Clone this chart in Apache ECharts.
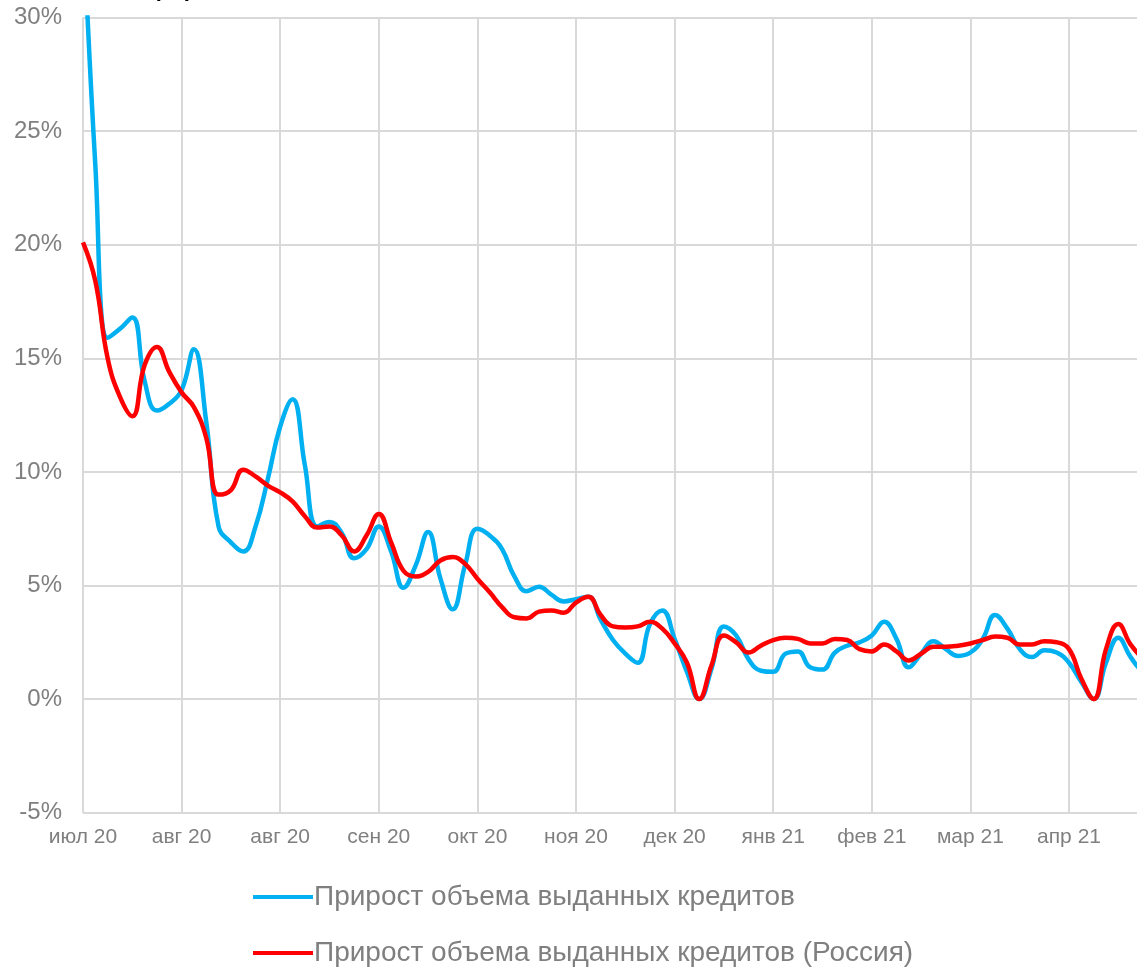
<!DOCTYPE html>
<html>
<head>
<meta charset="utf-8">
<script src="https://cdn.jsdelivr.net/npm/echarts@6/dist/echarts.min.js"></script>
<style>
  html, body { margin: 0; padding: 0; background: #fff; }
  #chart { width: 1137px; height: 969px; }
</style>
</head>
<body>
<div id="chart"></div>
<script>
// Month labels shown every 8th point (every four weeks)
const tickLabels = ['июл 20', 'авг 20', 'авг 20', 'сен 20', 'окт 20', 'ноя 20',
                    'дек 20', 'янв 21', 'фев 21', 'мар 21', 'апр 21'];

// Growth of issued loans, %
const loansGrowth = [
  34.5, 23.5, 15.9, 16.3, 16.8, 14.0, 12.7, 13.0, 13.6, 15.4,
  12.2, 7.6, 6.9, 6.5, 7.6, 9.7, 12.0, 13.2, 10.3, 7.6,
  7.8, 7.3, 6.2, 6.6, 7.6, 6.5, 4.9, 5.9, 7.35, 5.3,
  3.95, 5.9, 7.5, 7.2, 6.6, 5.4, 4.75, 4.95, 4.6, 4.3,
  4.4, 4.5, 3.5, 2.6, 2.0, 1.6, 3.3, 3.9, 2.65, 1.2,
  0.0, 1.35, 3.2, 2.8, 1.75, 1.25, 1.2, 2.0, 2.1, 1.4,
  1.3, 2.05, 2.35, 2.5, 2.8, 3.4, 2.65, 1.4, 2.0, 2.55,
  2.2, 1.9, 2.05, 2.65, 3.7, 3.1, 2.2, 1.85, 2.15, 2.05,
  1.6, 0.75, 0.0, 1.6, 2.7, 1.85, 1.2, 1.0
];

// Growth of issued loans across Russia, %
const loansGrowthRussia = [
  20.1, 18.4, 15.0, 13.3, 12.45, 14.7, 15.5, 14.4, 13.5, 12.85,
  11.5, 9.0, 9.2, 10.1, 9.8, 9.4, 9.1, 8.7, 8.05, 7.55,
  7.6, 7.2, 6.5, 7.2, 8.15, 6.9, 5.65, 5.4, 5.6, 6.1,
  6.25, 5.95, 5.3, 4.7, 4.05, 3.6, 3.55, 3.85, 3.9, 3.8,
  4.25, 4.5, 3.7, 3.2, 3.15, 3.2, 3.4, 3.1, 2.45, 1.6,
  0.0, 1.5, 2.8, 2.5, 2.05, 2.35, 2.6, 2.7, 2.65, 2.45,
  2.45, 2.65, 2.6, 2.2, 2.1, 2.4, 2.1, 1.7, 2.0, 2.3,
  2.3, 2.35, 2.45, 2.6, 2.75, 2.7, 2.4, 2.4, 2.55, 2.5,
  2.2, 0.9, 0.0, 2.2, 3.3, 2.4, 1.8, 1.5
];

const seriesNames = ['Прирост объема выданных кредитов',
                     'Прирост объема выданных кредитов (Россия)'];

const categories = loansGrowth.map((_, i) =>
  i % 8 === 0 && tickLabels[i / 8] ? tickLabels[i / 8] : '');
const isMonthTick = (i) => i % 8 === 0;

const chart = echarts.init(document.getElementById('chart'), null, { renderer: 'canvas' });
const font = '"Liberation Sans", Arial, sans-serif';

chart.setOption({
  animation: false,
  backgroundColor: '#ffffff',
  grid: {
    left: 83, top: 17.5, width: 1072.3, height: 795.2,
    containLabel: false, outerBoundsMode: 'none'
  },
  graphic: [{
    type: 'text',
    left: -4,
    top: -21,
    style: {
      text: 'Изменение, % (г/г)',
      font: 'bold 22px ' + font,
      fill: '#000000'
    }
  }],
  xAxis: {
    type: 'category',
    data: categories,
    boundaryGap: false,
    axisLine: { show: true, lineStyle: { color: '#d9d9d9', width: 2 } },
    axisTick: { show: false },
    axisLabel: {
      interval: (i) => isMonthTick(i),
      color: '#7f7f7f',
      fontSize: 21,
      fontFamily: font,
      margin: 14
    },
    splitLine: {
      show: true,
      interval: (i) => isMonthTick(i),
      lineStyle: { color: '#d9d9d9', width: 2 }
    }
  },
  yAxis: {
    type: 'value',
    min: -5,
    max: 30,
    interval: 5,
    axisLine: { show: false },
    axisTick: { show: false },
    axisLabel: {
      formatter: '{value}%',
      color: '#7f7f7f',
      fontSize: 24,
      fontFamily: font,
      margin: 21
    },
    splitLine: { show: true, lineStyle: { color: '#d9d9d9', width: 2 } }
  },
  legend: {
    orient: 'vertical',
    left: 253,
    top: 882,
    padding: 0,
    itemGap: 26,
    itemWidth: 60,
    itemHeight: 4,
    icon: 'rect',
    textStyle: {
      color: '#7f7f7f',
      fontSize: 28,
      lineHeight: 30,
      fontFamily: font,
      padding: [0, 0, 0, -4]
    },
    data: seriesNames
  },
  series: [
    {
      name: seriesNames[0],
      type: 'line',
      data: loansGrowth,
      smooth: 0.45,
      showSymbol: false,
      clip: true,
      itemStyle: { color: '#00b0f0' },
      lineStyle: { color: '#00b0f0', width: 4.5 }
    },
    {
      name: seriesNames[1],
      type: 'line',
      data: loansGrowthRussia,
      smooth: 0.45,
      showSymbol: false,
      clip: true,
      itemStyle: { color: '#ff0000' },
      lineStyle: { color: '#ff0000', width: 4.5 }
    }
  ]
});
</script>
</body>
</html>
